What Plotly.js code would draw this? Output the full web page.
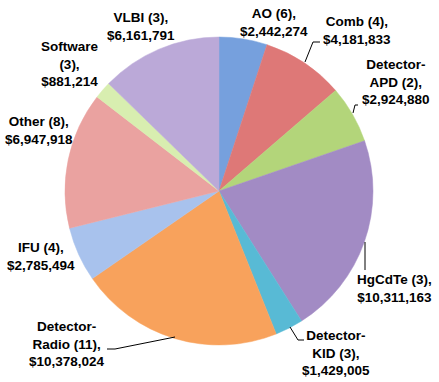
<!DOCTYPE html>
<html>
<head>
<meta charset="utf-8">
<script src="https://cdn.plot.ly/plotly-3.0.1.min.js"></script>
<style>
  body { margin: 0; background: #fff; }
  #myDiv { width: 439px; height: 382px; }
</style>
</head>
<body>
<div id="myDiv"></div>
<script>
var categories = ['AO', 'Comb', 'Detector-APD', 'HgCdTe', 'Detector-KID',
  'Detector-Radio', 'IFU', 'Other', 'Software', 'VLBI'];
var counts = [6, 4, 2, 3, 3, 11, 4, 8, 3, 3];
var funding = [2442274, 4181833, 2924880, 10311163, 1429005,
  10378024, 2785494, 6947918, 881214, 6161791];
var colors = ['#76a0dd', '#de7877', '#b3d57a', '#a28bc4', '#58bad5',
  '#f8a25c', '#a8c2ed', '#eaa2a0', '#d8eeb0', '#bba9d8'];

// label text blocks, laid out as in the original
var labelLines = [
  ['AO (6),', '$2,442,274'],
  ['Comb (4),', '$4,181,833'],
  ['Detector-', 'APD (2),', '$2,924,880'],
  ['HgCdTe (3),', '$10,311,163'],
  ['Detector-', 'KID (3),', '$1,429,005'],
  ['Detector-', 'Radio (11),', '$10,378,024'],
  ['IFU (4),', '$2,785,494'],
  ['Other (8),', '$6,947,918'],
  ['Software', '(3),', '$881,214'],
  ['VLBI (3),', '$6,161,791']
];
var labelPos = [
  [274, 23], [357, 30], [396, 82], [394, 288], [336, 353],
  [67, 344], [41, 256], [39, 131], [70, 64], [141, 27]
];

var W = 439, H = 382;
function px(x) { return x / W; }
function py(y) { return 1 - y / H; }

var annotations = labelLines.map(function (lines, i) {
  return {
    text: lines.map(function (t) { return '<b>' + t + '</b>'; }).join('<br>'),
    x: px(labelPos[i][0]), y: py(labelPos[i][1]),
    xref: 'paper', yref: 'paper',
    xanchor: 'center', yanchor: 'middle',
    showarrow: false, align: 'center',
    font: { family: 'Liberation Sans, Arial, sans-serif', size: 13.5, color: '#000' }
  };
});

// leader lines
var leaders = [
  [[320, 42], [313, 42], [305, 62]],
  [[358, 105], [355, 105], [353, 113]],
  [[365, 242], [365, 270]],
  [[290, 327], [298, 340], [304, 340]],
  [[107, 349], [115, 349], [175, 337]]
];
var shapes = leaders.map(function (pts) {
  var d = pts.map(function (p, k) {
    return (k === 0 ? 'M' : 'L') + px(p[0]) + ',' + py(p[1]);
  }).join(' ');
  return { type: 'path', path: d, xref: 'paper', yref: 'paper',
    line: { color: '#000', width: 1 } };
});

var trace = {
  type: 'pie',
  labels: categories,
  values: funding,
  customdata: counts,
  sort: false,
  direction: 'clockwise',
  rotation: 0,
  textinfo: 'none',
  hoverinfo: 'label+value',
  marker: { colors: colors, line: { color: colors, width: 0.5 } },
  domain: { x: [px(65), px(373)], y: [py(345), py(37)] }
};

var layout = {
  width: W, height: H,
  margin: { l: 0, r: 0, t: 0, b: 0 },
  showlegend: false,
  paper_bgcolor: '#fff',
  annotations: annotations,
  shapes: shapes
};

Plotly.newPlot('myDiv', [trace], layout, { displayModeBar: false, staticPlot: true });
</script>
</body>
</html>
